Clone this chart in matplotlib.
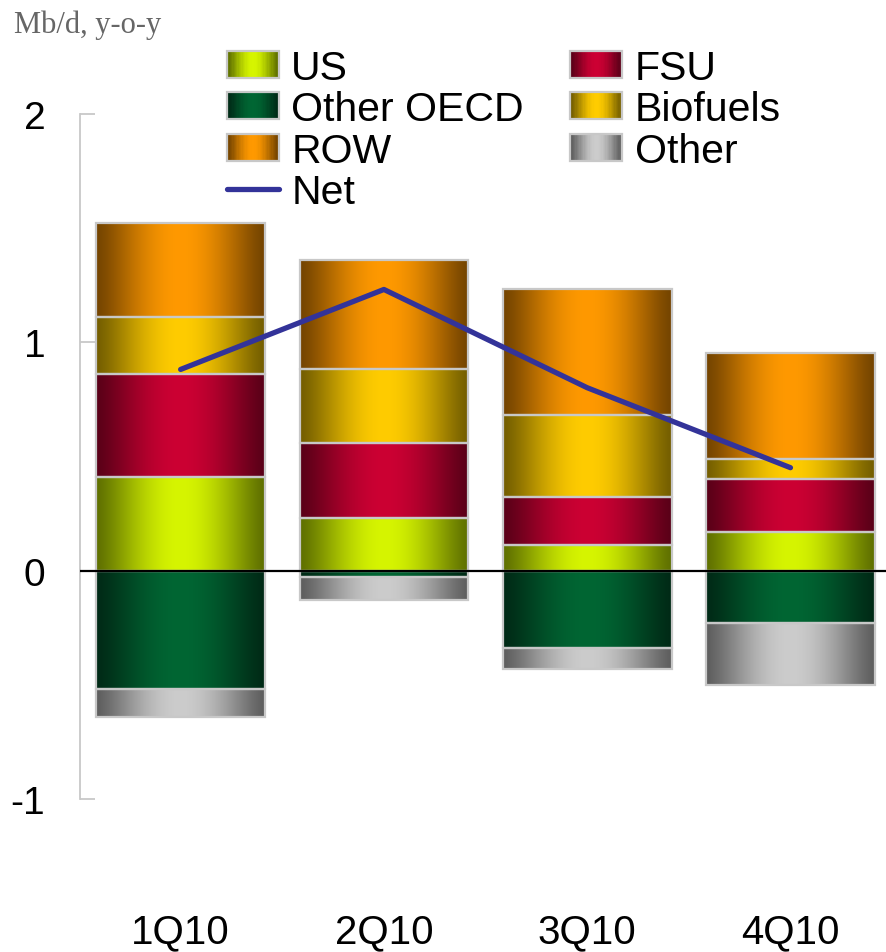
import numpy as np
import matplotlib
matplotlib.use("Agg")
import matplotlib.pyplot as plt
from matplotlib.colors import to_rgb
from matplotlib.patches import Rectangle
from matplotlib.lines import Line2D
from matplotlib.legend_handler import HandlerBase

# --- data (Mb/d, year-on-year change) ---
quarters = ["1Q10", "2Q10", "3Q10", "4Q10"]
us = [0.41, 0.23, 0.11, 0.17]
fsu = [0.45, 0.33, 0.21, 0.23]
biofuels = [0.25, 0.32, 0.36, 0.09]
row = [0.41, 0.48, 0.55, 0.46]
other_oecd = [-0.52, -0.03, -0.34, -0.23]
other = [-0.12, -0.10, -0.09, -0.27]
net = [0.88, 1.23, 0.80, 0.45]
y_ticks = [-1, 0, 1, 2]

# series: (label, values, centre colour, edge colour) in stacking order
series = [
    ("US", us, "#d6f500", "#5f7000"),
    ("FSU", fsu, "#cc0033", "#5a0018"),
    ("Biofuels", biofuels, "#ffcc00", "#745e00"),
    ("ROW", row, "#ff9900", "#744400"),
    ("Other OECD", other_oecd, "#006633", "#002a16"),
    ("Other", other, "#cccccc", "#5e5e5e"),
]
legend_order = ["US", "Other OECD", "ROW", "Net", "FSU", "Biofuels", "Other"]

plt.rcParams["font.family"] = ["Liberation Sans", "DejaVu Sans"]

EDGE = "#c8c8c8"
NET_COLOR = "#333399"


def gradient_row(c_mid, c_edge, n=256):
    t = np.linspace(0, 1, n)
    f = np.sin(np.pi * t) ** 1.3
    a = np.array(to_rgb(c_edge))
    b = np.array(to_rgb(c_mid))
    return a[None, :] + (b - a)[None, :] * f[:, None]


class GradientHandler(HandlerBase):
    def __init__(self, c_mid, c_edge, **kw):
        super().__init__(**kw)
        self.c_mid = c_mid
        self.c_edge = c_edge

    def create_artists(self, legend, orig_handle, xdescent, ydescent,
                       width, height, fontsize, trans):
        n = 40
        cols = gradient_row(self.c_mid, self.c_edge, n)
        arts = []
        x0, y0 = -xdescent, -ydescent
        for i in range(n):
            r = Rectangle((x0 + width * i / n, y0), width / n * 1.05, height,
                          facecolor=cols[i], edgecolor="none", transform=trans)
            arts.append(r)
        arts.append(Rectangle((x0, y0), width, height, facecolor="none",
                              edgecolor=EDGE, linewidth=1.6, transform=trans))
        return arts


fig = plt.figure(figsize=(8.86, 9.53), dpi=100)
ax = fig.add_axes([80 / 886, 1 - 880 / 953, 806 / 886, 780 / 953])

x = np.arange(len(quarters))
bar_w = 0.83
pos_bottom = np.zeros(len(quarters))
neg_bottom = np.zeros(len(quarters))
handles = {}
for label, vals, c_mid, c_edge in series:
    vals = np.asarray(vals, dtype=float)
    bottoms = np.where(vals >= 0, pos_bottom, neg_bottom)
    bars = ax.bar(x, vals, width=bar_w, bottom=bottoms, facecolor="none",
                  edgecolor=EDGE, linewidth=1.6, zorder=3, label=label)
    grad = gradient_row(c_mid, c_edge)[None, :, :]
    for p in bars.patches:
        bx, by, bw, bh = p.get_x(), p.get_y(), p.get_width(), p.get_height()
        y_lo, y_hi = min(by, by + bh), max(by, by + bh)
        ax.imshow(grad, extent=(bx, bx + bw, y_lo, y_hi), aspect="auto",
                  interpolation="bilinear", zorder=2)
    pos_bottom += np.where(vals >= 0, vals, 0)
    neg_bottom += np.where(vals < 0, vals, 0)
    handles[label] = (bars, GradientHandler(c_mid, c_edge))

ax.axhline(0, color="black", linewidth=1.6, zorder=4)
net_line, = ax.plot(x, net, color=NET_COLOR, linewidth=3.8,
                    solid_capstyle="round", solid_joinstyle="round",
                    zorder=5, label="Net")

ax.set_xlim(-0.495, 3.47)
ax.set_ylim(-1.350, 2.0635)

# axes styling
for s in ["top", "right", "bottom"]:
    ax.spines[s].set_visible(False)
ax.spines["left"].set_bounds(-1, 2)
ax.spines["left"].set_color(EDGE)
ax.spines["left"].set_linewidth(1.3)
ax.set_yticks(y_ticks)
ax.set_yticklabels([str(v) for v in y_ticks])
ax.tick_params(axis="y", direction="in", length=11, width=1.3, color=EDGE,
               labelsize=28, pad=25)
ax.set_xticks(x)
ax.set_xticklabels(quarters)
ax.tick_params(axis="x", length=0, labelsize=29, pad=24)

fig.text(14 / 886, 1 - 25 / 953, "Mb/d, y-o-y", family="Liberation Serif",
         fontsize=22, color="#666666", va="center", ha="left")

leg_handles, handler_map = [], {}
for name in legend_order:
    if name == "Net":
        h = Line2D([], [], color=NET_COLOR, linewidth=3.8,
                   solid_capstyle="round")
        leg_handles.append(h)
    else:
        bars, hdl = handles[name]
        leg_handles.append(bars)
        handler_map[bars] = hdl

leg = fig.legend(leg_handles, legend_order, handler_map=handler_map,
                 ncol=2, loc="upper left",
                 bbox_to_anchor=(227 / 886, 1 - 50 / 953),
                 frameon=False, fontsize=29.5, handlelength=1.27,
                 handleheight=0.63, handletextpad=0.3, labelspacing=0.08,
                 columnspacing=1.13, borderpad=0, borderaxespad=0)

fig.savefig("out.png", dpi=100)
